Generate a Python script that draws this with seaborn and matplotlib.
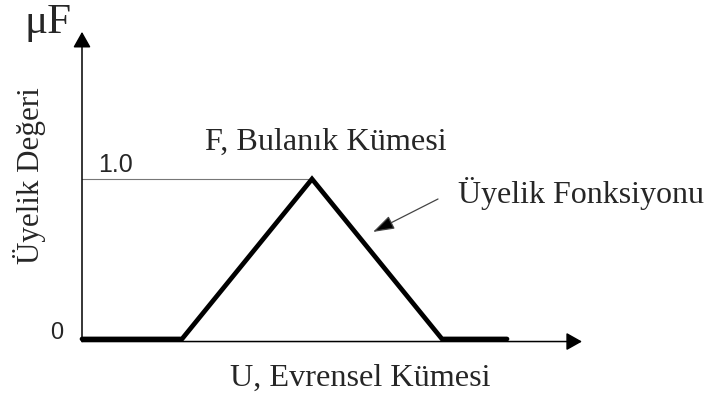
import pandas as pd
import matplotlib
matplotlib.use('Agg')
import matplotlib.pyplot as plt
import seaborn as sns

# uyelik fonksiyonu (ucgen)
evrensel_u = [0, 2, 4.6, 7.2, 8.5]
uyelik = [0, 0, 1, 0, 0]

etiket_x = 'U, Evrensel Kümesi'
etiket_y = 'Üyelik Değeri'
baslik_y = 'μF'
kume_adi = 'F, Bulanık Kümesi'
fonk_adi = 'Üyelik Fonksiyonu'
tick_1 = '1.0'
tick_0 = '0'

df = pd.DataFrame({'u': evrensel_u, 'mu': uyelik})

sns.set_style('white')
plt.rcParams['font.family'] = ['Liberation Serif', 'DejaVu Serif']

fig = plt.figure(figsize=(7.08, 3.94), dpi=100)
ax = fig.add_axes([0, 0, 1, 1])
ax.set_xlim(-1.64, 12.52)
ax.set_ylim(-0.344, 2.119)
ax.axis('off')

# eksenler (oklu)
ax.annotate('', xy=(10, -0.016), xytext=(0, -0.016),
            arrowprops=dict(arrowstyle='-|>,head_length=0.8,head_width=0.45',
                            mutation_scale=12, lw=1.1, color='black',
                            shrinkA=0, shrinkB=0))
ax.annotate('', xy=(0, 1.92), xytext=(0, -0.016),
            arrowprops=dict(arrowstyle='-|>,head_length=0.8,head_width=0.45',
                            mutation_scale=12, lw=1.1, color='black',
                            shrinkA=0, shrinkB=0))

# 1.0 yardimci cizgi
ax.plot([0, evrensel_u[2]], [1, 1], color='#777777', lw=0.8)

sns.lineplot(data=df, x='u', y='mu', sort=False, estimator=None,
             color='black', lw=3.4, ax=ax, solid_capstyle='round',
             solid_joinstyle='miter')
ax.axis('off')

# yazilar
ax.text(-1.16, 1.9125, baslik_y, fontsize=31, ha='left', va='baseline')
ax.text(-1.04, 1.019, etiket_y, fontsize=22.3, rotation=90,
        ha='center', va='center')
ax.text(5.56, -0.29, etiket_x, fontsize=23.2, ha='center', va='baseline')
ax.text(4.88, 1.181, kume_adi, fontsize=23.2, ha='center', va='baseline')
ax.text(9.98, 0.85, fonk_adi, fontsize=23, ha='center', va='baseline')
ax.text(0.32, 1.044, tick_1, fontsize=18, ha='left', va='baseline',
        family=['Liberation Sans', 'DejaVu Sans'])
ax.text(-0.5, 0.0, tick_0, fontsize=17, ha='center', va='baseline',
        family=['Liberation Sans', 'DejaVu Sans'])

# ok: uyelik fonksiyonu
ax.annotate('', xy=(5.82, 0.669), xytext=(7.12, 0.875),
            arrowprops=dict(arrowstyle='-|>,head_length=1.1,head_width=0.36',
                            mutation_scale=12, lw=0.9, color='#444444',
                            fc='black', shrinkA=0, shrinkB=0))

fig.savefig('out.png', dpi=100)
